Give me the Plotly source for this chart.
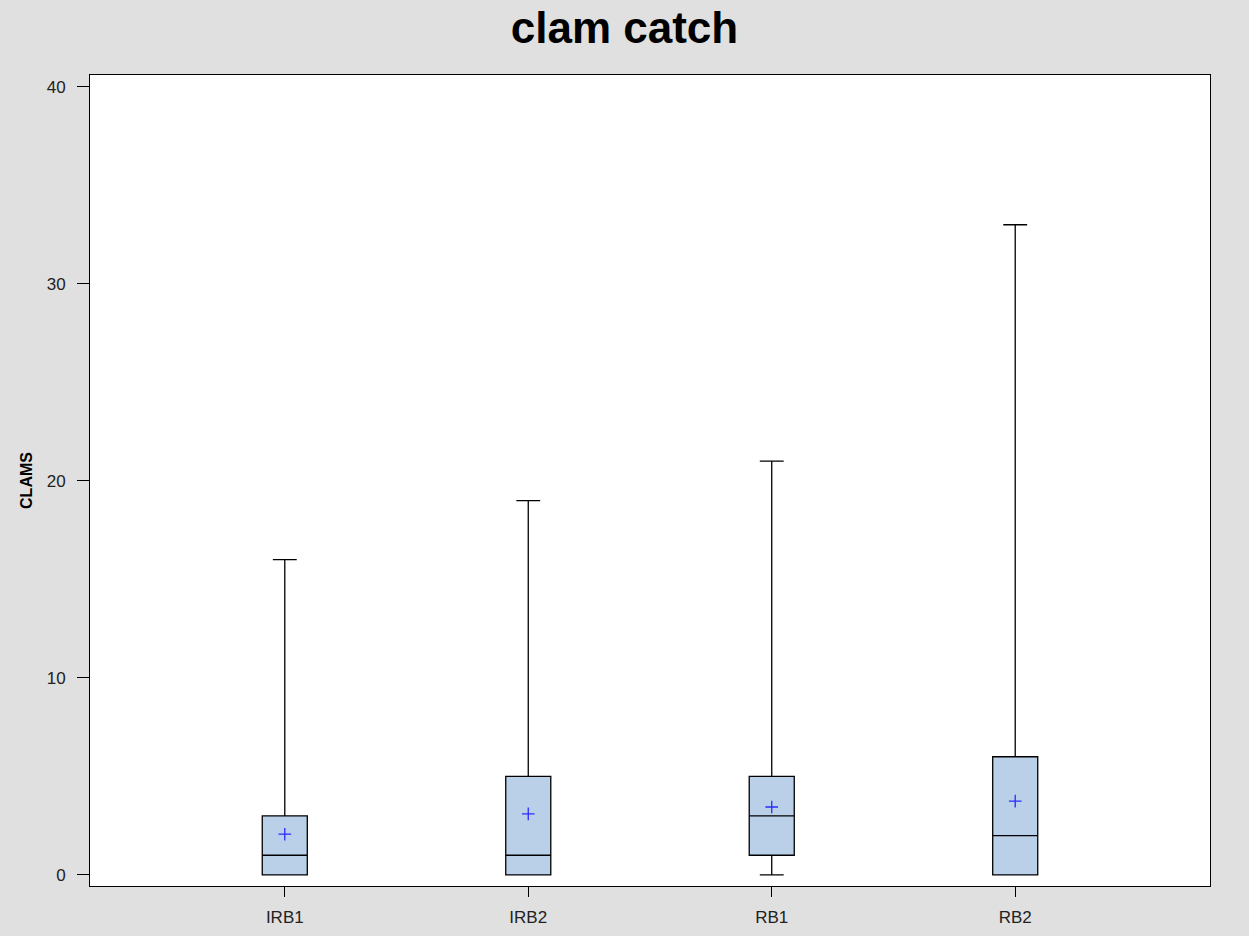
import plotly.graph_objects as go

categories = ["IRB1", "IRB2", "RB1", "RB2"]
mins = [0, 0, 0, 0]
q1s = [0, 0, 1, 0]
medians = [1, 1, 3, 2]
q3s = [3, 5, 5, 6]
maxs = [16, 19, 21, 33]
means = [2.07, 3.1, 3.45, 3.75]
positions = list(range(len(categories)))

fig = go.Figure()
for i, cat in enumerate(categories):
    fig.add_trace(go.Box(
        x=[positions[i]], q1=[q1s[i]], median=[medians[i]], q3=[q3s[i]],
        lowerfence=[mins[i]], upperfence=[maxs[i]],
        width=0.185, whiskerwidth=0.53,
        fillcolor="#b9d0e8", line=dict(color="black", width=1.3),
        name=cat, showlegend=False, hoverinfo="skip",
    ))

fig.add_trace(go.Scatter(
    x=positions, y=means, mode="markers",
    marker=dict(symbol="cross-thin", size=9, line=dict(color="#2a2aff", width=1.3)),
    showlegend=False,
))

fig.update_layout(
    width=1249, height=936,
    paper_bgcolor="#e0e0e0", plot_bgcolor="white",
    margin=dict(l=90, r=39, t=75, b=50),
    title=dict(text="<b>clam catch</b>", x=0.5, xanchor="center", y=1 - 28 / 936, yanchor="middle",
               font=dict(family="Liberation Sans, Arial", size=44, color="black")),
    font=dict(family="Liberation Sans, Arial", size=17, color="#222"),
)
fig.update_xaxes(
    range=[-0.8, 3.8], tickvals=positions, ticktext=categories,
    showgrid=False, zeroline=False, showline=True, linecolor="black", linewidth=1, mirror=True,
    ticks="outside", ticklen=10, tickcolor="black", tickfont=dict(size=17),
    ticklabelstandoff=6, automargin=False,
)
fig.update_yaxes(
    range=[-0.56, 40.6], tickvals=[0, 10, 20, 30, 40],
    showgrid=False, zeroline=False, showline=True, linecolor="black", linewidth=1, mirror=True,
    ticks="outside", ticklen=12, tickcolor="black", tickfont=dict(size=17),
    ticklabelstandoff=8, automargin=False,
    title=dict(text="<b>CLAMS</b>", font=dict(size=16, color="black"), standoff=10),
)

fig.write_html("out.html", config={"displayModeBar": False},
               post_script="document.body.style.margin='0';")
